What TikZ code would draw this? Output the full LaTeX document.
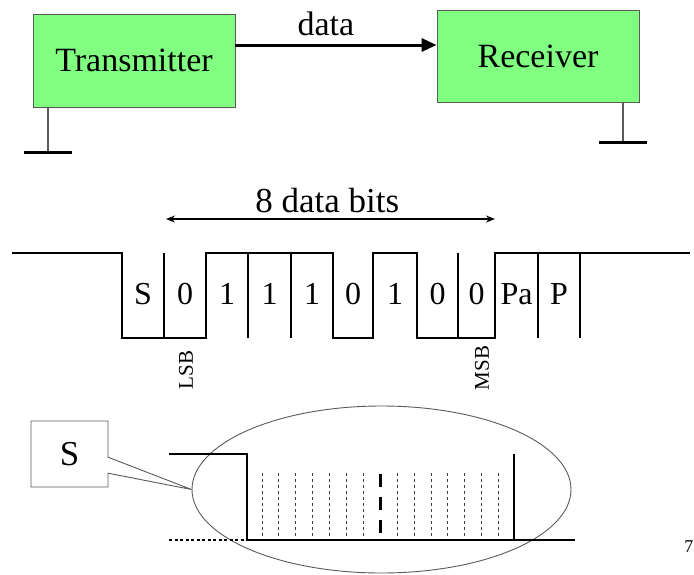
\documentclass[tikz,border=0pt]{standalone}
\usepackage{fontspec}
\setmainfont{Liberation Serif}
\usepackage{tikz}
\definecolor{boxgreen}{RGB}{128,255,128}
\definecolor{framegray}{RGB}{90,90,90}
\usetikzlibrary{positioning}
\usetikzlibrary{arrows.meta}
\usetikzlibrary{shapes,calc}

\begin{document}
\begin{tikzpicture}[x=1pt,y=-1pt]
	\useasboundingbox (0,0) rectangle (694,574);

	% sender and receiver
	\begin{scope}[every node/.style={fill=boxgreen,draw=framegray,line width=0.8pt,minimum width=202pt,minimum height=93pt,font=\fontsize{34}{40}\selectfont}]
	    \node (tx) at (134,60.5) {Transmitter};
	    \node (rx) [minimum height=92pt] at (538,56) {Receiver};
	\end{scope}

	\path [-{Triangle[length=15pt,width=13pt]}, line width=3pt] ([yshift=15.5pt]tx.east) edge node[pos=0.45, above=4pt, font=\fontsize{34}{40}\selectfont] {data} ([yshift=11pt]rx.west);

	% grounds
	\coordinate (txg) at (48,152);
	\coordinate (rxg) at (623,142);
	\draw [framegray, line width=1.3pt] (tx.south -| txg) -- (txg);
	\draw [framegray, line width=1.3pt] (rx.south -| rxg) -- (rxg);
	\draw [line width=3pt] ([xshift=-24pt]txg) -- ([xshift=24pt]txg);
	\draw [line width=3pt] ([xshift=-24pt]rxg) -- ([xshift=24pt]rxg);

	% frame on the line
	\coordinate (span0) at (166,219);
	\coordinate (span7) at (495,219);
	\draw [{Stealth[length=9pt,width=7pt]}-{Stealth[length=9pt,width=7pt]}, line width=1.2pt] (span0) -- node[pos=0.49, above=2.5pt, font=\fontsize{35}{40}\selectfont] {8 data bits} (span7);

	\draw [line width=2.6pt] (12,253) -| (122,338) -| (206,253) -| (333,338) -| (373,253) -| (417,338) -| (495,253) -- (690,253);
	\foreach \x in {164,248,291,458,538,580}
	    \draw [line width=2.6pt] (\x,253) -- (\x,338);

	\foreach \lbl/\x [count=\i] in {S/143,0/185,1/227,1/269.5,1/312,0/353,1/395,0/437.5,0/476.5,Pa/516.5,P/559}
	    \node [font=\fontsize{32}{38}\selectfont] (bit\i) at (\x,294) {\lbl};

	\node [rotate=90, font=\fontsize{21}{25}\selectfont] (lsb) at (186,370) {LSB};
	\node [rotate=90, font=\fontsize{21}{25}\selectfont] (msb) at (482,368) {MSB};

	% start bit sampling
	\node [ellipse, draw=framegray, line width=0.9pt, minimum width=379pt, minimum height=167pt] (zoomell) at (381.5,489.5) {};
	\node [rectangle callout, draw=framegray, line width=0.9pt, minimum width=77pt, minimum height=66pt,
	       callout absolute pointer={(zoomell.west)}, callout pointer width=16pt,
	       font=\fontsize{35}{40}\selectfont] (startbox) at (69.5,454) {S};

	\draw [line width=2.6pt] (169,454) -| (247,540) -- (575,540);
	\draw [line width=2.6pt] (514,454) -- (514,540);
	\draw [line width=2.6pt, dash pattern=on 3pt off 2.5pt] (169,540) -- (247,540);
	\foreach \i in {0,...,6,8,9,...,14}
	    \draw [black!75, line width=1pt, dash pattern=on 3pt off 3pt] (262+16.9*\i,473) -- (262+16.9*\i,538);
	\draw [line width=3pt, dash pattern=on 13pt off 10pt] (380.3,474) -- (380.3,538);

	\node [anchor=east, inner sep=0.5pt, font=\fontsize{18}{22}\selectfont] (pagenum) at (694,547) {7};
\end{tikzpicture}
\end{document}
